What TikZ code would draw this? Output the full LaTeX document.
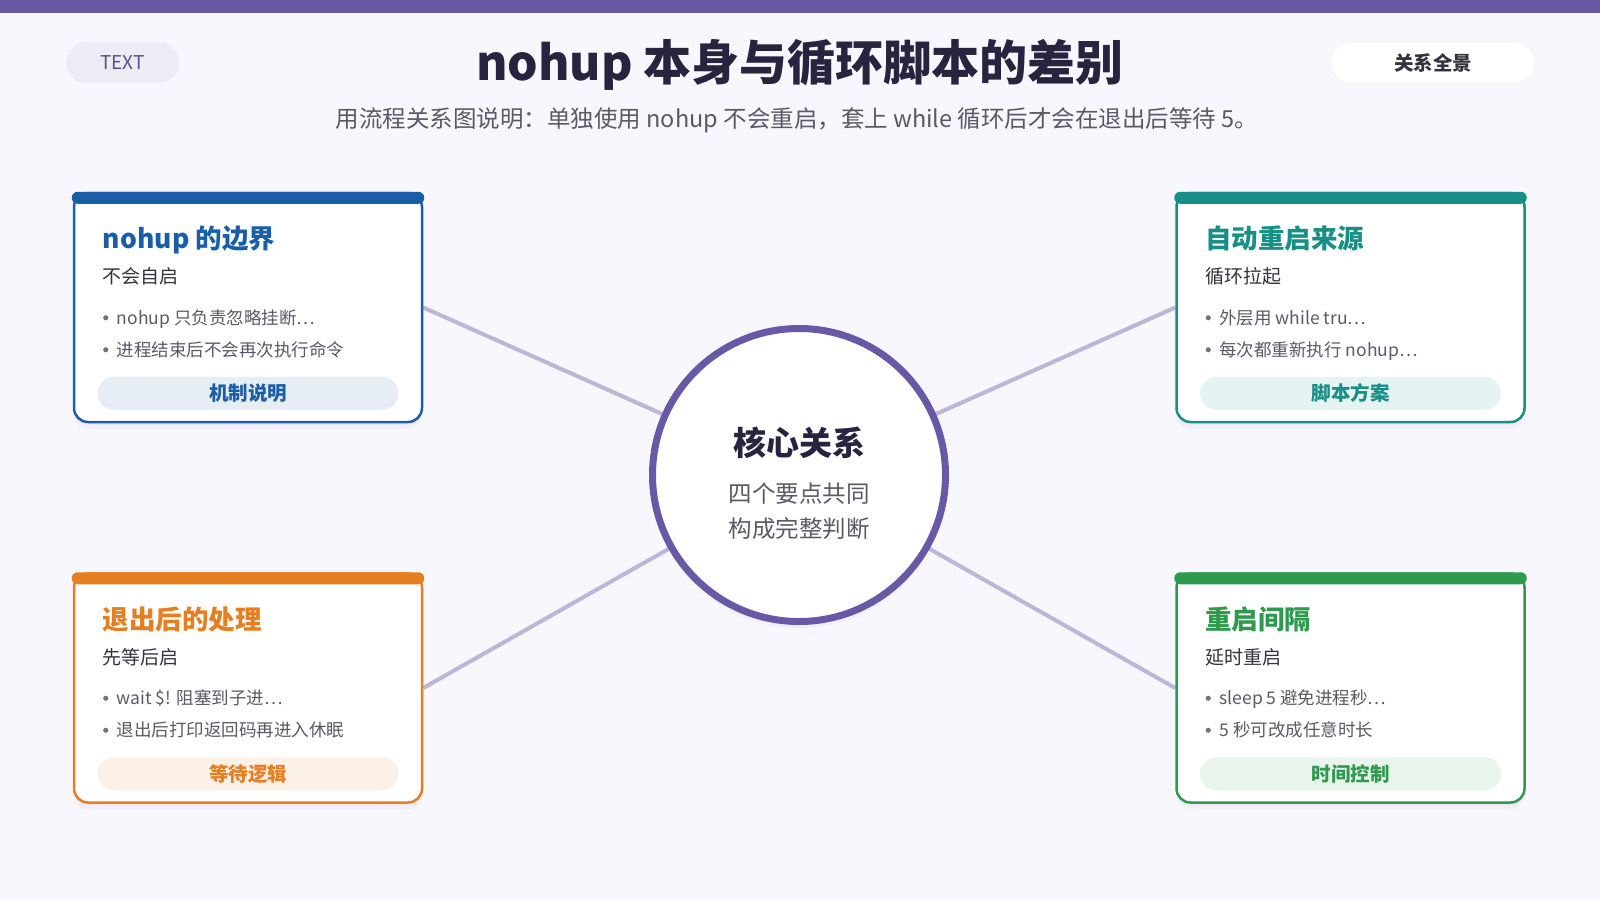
\documentclass[tikz,border=0pt]{standalone}
\usepackage{fontspec}
\setmainfont{Noto Sans CJK SC}
\usepackage{tikz}
\usetikzlibrary{calc, positioning, backgrounds, shadows}

\definecolor{pagebg}{HTML}{F8F7FD}
\definecolor{accent}{HTML}{6858A6}
\definecolor{ink}{HTML}{28233F}
\definecolor{body}{HTML}{33333D}
\definecolor{muted}{HTML}{5A5A66}
\definecolor{linkc}{HTML}{BCB6D8}
\definecolor{nblue}{HTML}{1A5EA8}
\definecolor{nteal}{HTML}{178F86}
\definecolor{norange}{HTML}{E67E22}
\definecolor{ngreen}{HTML}{2F9A4E}

\begin{document}
\begin{tikzpicture}[x=1pt, y=-1pt,
    softshadow/.style={drop shadow={shadow xshift=0pt, shadow yshift=-7pt, opacity=0.045, fill=accent},
        drop shadow={shadow xshift=0pt, shadow yshift=-3pt, opacity=0.04, fill=accent}},
    card/.style={draw=#1, line width=2.5pt, fill=white, rounded corners=14pt,
        minimum width=348pt, minimum height=229pt, inner sep=0pt, softshadow},
    cardtitle/.style={anchor=base west, inner sep=0pt, text=#1, font=\fontsize{26.5}{30}\selectfont\bfseries},
    cardsub/.style={anchor=base west, inner sep=0pt, text=body, font=\fontsize{19}{22}\selectfont},
    point/.style={anchor=base west, inner sep=0pt, text=muted, font=\fontsize{17.5}{20}\selectfont},
    tagpill/.style={fill=#1!11, text=#1, rounded corners=16.5pt, minimum width=301pt, minimum height=33pt,
        inner sep=0pt, font=\fontsize{19.5}{22}\selectfont\bfseries},
    pill/.style={rounded corners=20.5pt, minimum height=41pt, inner sep=0pt},
    link/.style={draw=linkc, line width=4pt},
    hub/.style={circle, draw=accent, line width=7pt, fill=white, minimum size=293pt, inner sep=0pt, softshadow}]

    \useasboundingbox (0,0) rectangle (1600,900);
    \begin{scope}[on background layer]
        \fill[pagebg] (0,0) rectangle (1600,900);
    \end{scope}
    \fill[accent] (0,0) rectangle (1600,13);

    % header
    \node[pill, fill=accent!12, minimum width=113pt, text=accent!90!black,
        font=\fontsize{19}{22}\selectfont] (badge) at (122.5,62.5) {TEXT};
    \node[pill, fill=white, draw=accent!6, line width=1pt, minimum width=204pt, text=body,
        font=\fontsize{19.5}{22}\selectfont\bfseries] (scope) at (1433,62.5) {关系全景};
    \node[anchor=base, inner sep=0pt, text=ink, font=\fontsize{48}{56}\selectfont\bfseries]
        (title) at (800,80) {nohup 本身与循环脚本的差别};
    \node[anchor=base, inner sep=0pt, text=muted, font=\fontsize{23.5}{28}\selectfont]
        (subtitle) at (797,127) {用流程关系图说明：单独使用 nohup 不会重启，套上 while 循环后才会在退出后等待 5。};

    % centre
    \node[hub] (core) at (799,475) {};
    \node[anchor=base, inner sep=0pt, text=ink, font=\fontsize{33}{38}\selectfont\bfseries]
        (core-title) at (799,455.5) {核心关系};
    \node[anchor=base, inner sep=0pt, text=muted, font=\fontsize{23.5}{28}\selectfont]
        (core-l1) at (799,502) {四个要点共同};
    \node[anchor=base, inner sep=0pt, text=muted, font=\fontsize{23.5}{28}\selectfont]
        (core-l2) at (799,537) {构成完整判断};

    % cards
    \foreach \id/\cx/\cy/\c/\t/\s/\ba/\bb/\tag in {
        tl/248/307.5/nblue/{nohup 的边界}/不会自启/{nohup 只负责忽略挂断…}/进程结束后不会再次执行命令/机制说明,
        tr/1350.5/307.5/nteal/自动重启来源/循环拉起/{外层用 while tru…}/{每次都重新执行 nohup…}/脚本方案,
        bl/248/688/norange/退出后的处理/先等后启/{wait \$! 阻塞到子进…}/退出后打印返回码再进入休眠/等待逻辑,
        br/1350.5/688/ngreen/重启间隔/延时重启/{sleep 5 避免进程秒…}/{5 秒可改成任意时长}/时间控制} {
        \node[card=\c] (\id) at (\cx,\cy) {};
        \fill[\c, rounded corners=6pt] ($(\id.north west)+(-1,0)$) rectangle ($(\id.north east)+(1,12)$);
        \node[cardtitle=\c] (\id-title) at ($(\id.north west)+(30,57)$) {\t};
        \node[cardsub] (\id-sub) at ($(\id.north west)+(30,92)$) {\s};
        \fill[muted!85] ($(\id.north west)+(33,126)$) circle (2.6pt);
        \fill[muted!85] ($(\id.north west)+(33,158)$) circle (2.6pt);
        \node[point] (\id-b1) at ($(\id.north west)+(44,132.5)$) {\ba};
        \node[point] (\id-b2) at ($(\id.north west)+(44,164.5)$) {\bb};
        \node[tagpill=\c] (\id-tag) at ($(\id.north)+(0,201.5)$) {\tag};
    }

    % links
    \begin{scope}[on background layer]
        \draw[link] (tl.east) -- (core.center);
        \draw[link] (bl.east) -- (core.center);
        \draw[link] (tr.west) -- (core.center);
        \draw[link] (br.west) -- (core.center);
    \end{scope}
\end{tikzpicture}
\end{document}
